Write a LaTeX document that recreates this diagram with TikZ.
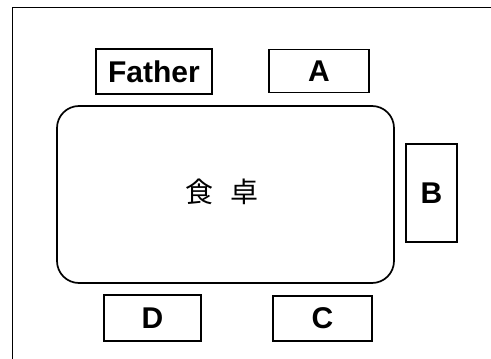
\documentclass[tikz,border=0pt]{standalone}
\usepackage{fontspec}
\setmainfont{Liberation Sans}
\newfontfamily\cjk{Noto Sans CJK JP}
\begin{document}
\begin{tikzpicture}[x=1pt,y=-1pt,
  seat/.style={draw,line width=1.7pt,inner sep=0pt,font=\bfseries\fontsize{30}{31}\selectfont},
  frameline/.style={line width=0.8pt}]
\useasboundingbox (0,0) rectangle (491,359);
\coordinate (ftl) at (12,7);
\coordinate (ftr) at (491,7);
\coordinate (fbl) at (12,359);
\draw[frameline] (fbl) -- (ftl) -- (ftr);
\node[draw,line width=1.7pt,rounded corners=22pt,minimum width=337pt,minimum height=177pt] (table) at (225.5,194.5) {};
\node[font=\cjk\fontsize{28}{29}\selectfont] (label) at (222,192) {食\hspace{18pt}卓};
\node[seat,minimum width=116pt,minimum height=45pt] (father) at (154,71.5) {Father};
\node[seat,minimum width=100pt,minimum height=43pt] (a) at (319,71) {A};
\node[seat,minimum width=51pt,minimum height=98pt] (b) at (431.5,193) {B};
\node[seat,minimum width=97pt,minimum height=46pt] (d) at (152.5,318) {D};
\node[seat,minimum width=99pt,minimum height=45pt] (c) at (322.5,318.5) {C};
\end{tikzpicture}
\end{document}
